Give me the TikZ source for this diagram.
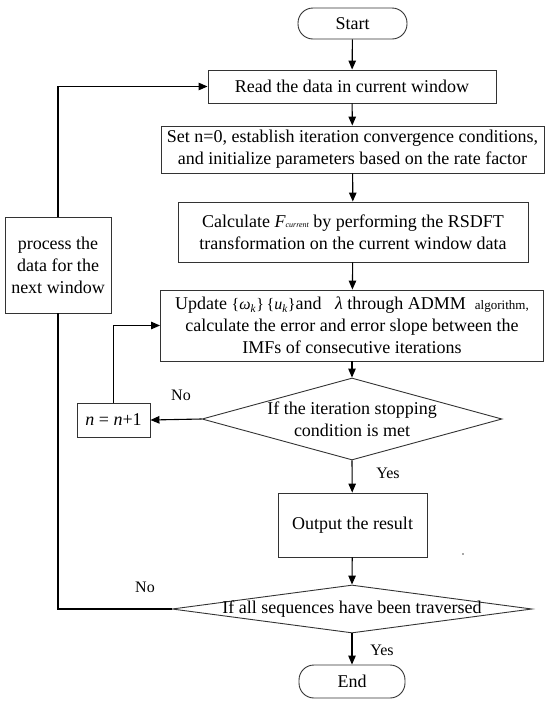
\documentclass[tikz,border=0pt]{standalone}
\usepackage{fontspec}
\setmainfont{Liberation Serif}
\usetikzlibrary{arrows.meta,shapes.geometric}
\begin{document}
\begin{tikzpicture}[x=1pt,y=-1pt,
  every node/.style={inner sep=0pt, font=\fontsize{18}{22}\selectfont},
  box/.style={draw=black!80, line width=0.9pt, align=center},
  term/.style={draw=black!80, line width=0.9pt, rounded corners=15pt},
  dia/.style={draw=black!80, line width=0.9pt, diamond},
  lab/.style={font=\fontsize{16}{18}\selectfont},
  conn/.style={line width=1.1pt, black},
  arr/.style={conn, -{Triangle[length=9pt,width=7.5pt]}}
]
\useasboundingbox (0,0) rectangle (550,705);

\node[term, minimum width=109pt, minimum height=31pt] (start) at (352.5,23.5) {Start};
\node[box, minimum width=288pt, minimum height=33pt] (read) at (352,86.5) {Read the data in current window};
\node[box, minimum width=383pt, minimum height=47pt] (set) at (352.5,149.5)
  {Set n=0, establish iteration convergence conditions,\\ and initialize parameters based on the rate factor};
\node[box, minimum width=350pt, minimum height=60pt] (calc) at (353,232)
  {Calculate \textit{F}{\fontsize{8}{8}\selectfont\itshape current} by performing the RSDFT\\ transformation on the current window data};
\node[box, minimum width=383pt, minimum height=71pt] (upd) at (352,325.5)
  {Update\ {\fontsize{16}{16}\selectfont\{\textit{ω}\textsubscript{\textit{k}}\}\,\{\textit{u}\textsubscript{\textit{k}}\}}and\ \ \ \textit{λ} through ADMM\ \ {\fontsize{13}{14}\selectfont algorithm,}\\
   calculate the error and error slope between the\\ IMFs of consecutive iterations};
\node[dia, minimum width=300pt, minimum height=82pt] (d1) at (352,419) {};
\node[align=center] (d1t) at (d1.center) {If the iteration stopping\\ condition is met};
\node[box, minimum width=73pt, minimum height=34pt] (inc) at (113.5,420) {\textit{n} = \textit{n}+1};
\node[box, minimum width=149pt, minimum height=64pt] (out) at (352.5,525) {Output the result};
\node[dia, minimum width=360pt, minimum height=48pt] (d2) at (352,609) {};
\node (d2t) at (d2.center) {If all sequences have been traversed};
\node[term, minimum width=106pt, minimum height=33pt] (end) at (352,681.5) {End};
\node[box, minimum width=106pt, minimum height=96pt] (proc) at (58,265)
  {process the\\ data for the\\ next window};

\node[lab] (no1) at (181,395) {No};
\node[lab] (yes1) at (388,473) {Yes};
\node[lab] (no2) at (145,587) {No};
\node[lab] (yes2) at (382,650) {Yes};

\draw[arr] (start) -- (read);
\draw[arr] (read) -- (set);
\draw[arr] (set) -- (calc);
\draw[arr] (calc) -- (upd);
\draw[arr] (upd) -- (d1.north);
\draw[arr] (d1.south) -- (out);
\draw[arr] (out) -- (d2.north);
\draw[arr] (d2.south) -- (end);
\draw[arr] (d1.west) -- (inc.east);
\draw[arr] (inc.north) |- (upd.west);
\draw[conn] (d2.west) -| (proc.south);
\draw[arr] (proc.north) |- (read.west);

\fill[black!70] (463,554) circle (0.9pt);
\end{tikzpicture}
\end{document}
